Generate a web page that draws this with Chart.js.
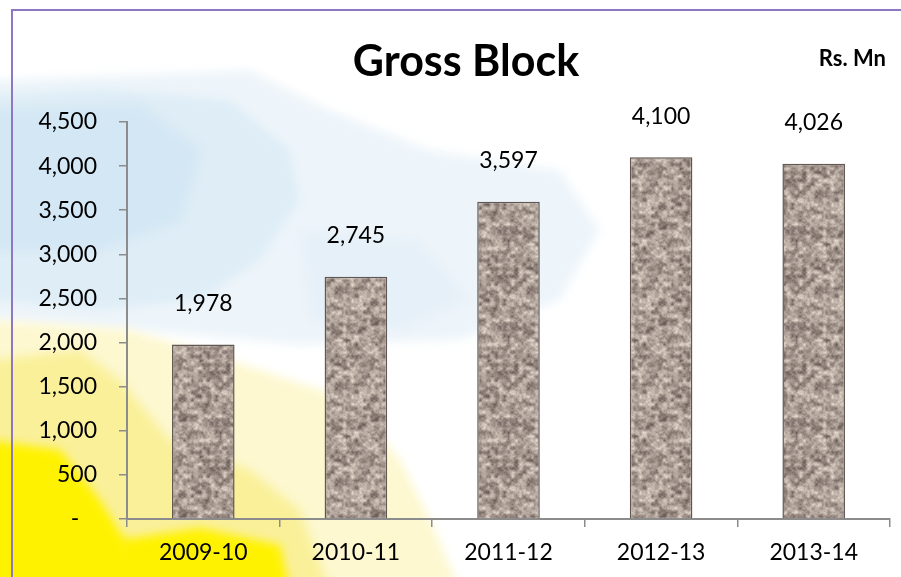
<!DOCTYPE html>
<html>
<head>
<meta charset="utf-8">
<script src="https://cdn.jsdelivr.net/npm/chart.js@4/dist/chart.umd.min.js"></script>
<style>
html,body{margin:0;padding:0;background:#fff;}
#wrap{width:901px;height:577px;position:relative;}
</style>
</head>
<body>
<div id="wrap"><canvas id="c" width="901" height="577"></canvas></div>
<script>
// ---- data ----
const categories = ['2009-10', '2010-11', '2011-12', '2012-13', '2013-14'];
const grossBlock = [1978, 2745, 3597, 4100, 4026];
const yTicks = [0, 500, 1000, 1500, 2000, 2500, 3000, 3500, 4000, 4500];
const chartTitle = 'Gross Block';
const unitLabel = 'Rs. Mn';

const FONT = 'Lato, "Open Sans", "Liberation Sans", sans-serif';

// ---- granite texture (styling only) ----
function hash(i, j) {
  const s = Math.sin(i * 12.9898 + j * 78.233) * 43758.5453;
  return s - Math.floor(s);
}
function makeTexture() {
  const n = 96;
  const cv = document.createElement('canvas');
  cv.width = n; cv.height = n;
  const cx = cv.getContext('2d');
  const img = cx.createImageData(n, n);
  function vnoise(x, y, cell, seed) {
    const m = n / cell;
    const gx = Math.floor(x / cell), gy = Math.floor(y / cell);
    let fx = (x % cell) / cell, fy = (y % cell) / cell;
    fx = fx * fx * (3 - 2 * fx); fy = fy * fy * (3 - 2 * fy);
    const h = (a, b) => hash((a % m) + seed, (b % m) + seed * 3);
    const a = h(gx, gy), b = h(gx + 1, gy), c = h(gx, gy + 1), d = h(gx + 1, gy + 1);
    const top = a + (b - a) * fx, bot = c + (d - c) * fx;
    return top + (bot - top) * fy;
  }
  for (let y = 0; y < n; y++) {
    for (let x = 0; x < n; x++) {
      let v = vnoise(x, y, 4, 1) * 0.6 + vnoise(x, y, 2, 7) * 0.3 + hash(x + 311, y + 97) * 0.1;
      let r, g, b;
      if (v < 0.3) { const t = v / 0.3; r = 88 + t * 52; g = 78 + t * 47; b = 74 + t * 44; }
      else if (v > 0.68) { const t = Math.min(1, (v - 0.68) / 0.2); r = 195 + t * 32; g = 183 + t * 32; b = 173 + t * 30; }
      else { const t = (v - 0.3) / 0.38; r = 140 + t * 55; g = 125 + t * 58; b = 118 + t * 55; }
      const k = (y * n + x) * 4;
      img.data[k] = r; img.data[k + 1] = g; img.data[k + 2] = b; img.data[k + 3] = 255;
    }
  }
  cx.putImageData(img, 0, 0);
  return cx.createPattern(cv, 'repeat');
}
const granite = makeTexture();

// ---- background plugin ----
const bgPlugin = {
  id: 'bg',
  beforeDraw(chart) {
    const ctx = chart.ctx;
    ctx.save();
    ctx.fillStyle = '#ffffff';
    ctx.fillRect(0, 0, chart.width, chart.height);
    ctx.filter = 'blur(5px)';
    function poly(pts, col) {
      ctx.beginPath();
      ctx.moveTo(pts[0][0], pts[0][1]);
      for (let i = 1; i < pts.length; i++) ctx.lineTo(pts[i][0], pts[i][1]);
      ctx.closePath();
      ctx.fillStyle = col;
      ctx.fill();
    }
    // blue shapes
    poly([[-10,80],[250,70],[330,110],[430,150],[560,170],[600,230],[560,300],[460,340],[300,345],[130,330],[-10,320]], '#eef5fa');
    poly([[-10,95],[100,88],[230,100],[290,150],[300,200],[260,260],[200,300],[100,310],[-10,300]], '#deedf6');
    poly([[-10,110],[140,105],[200,150],[180,220],[100,250],[-10,250]], '#d3e7f4');
    poly([[300,230],[420,240],[470,300],[400,330],[310,320]], '#e6f0f8');
    // yellow shapes
    poly([[-10,320],[130,330],[260,370],[350,400],[400,460],[430,520],[460,590],[-10,590]], '#fdf8d0');
    poly([[-10,360],[80,350],[120,380],[170,440],[250,470],[300,510],[330,590],[-10,590]], '#faf09a');
    poly([[-10,440],[60,450],[100,500],[125,540],[140,590],[-10,590]], '#fff200');
    poly([[120,540],[200,528],[280,545],[290,590],[120,590]], '#fff200');
    ctx.filter = 'none';
    // frame
    ctx.strokeStyle = '#8e78c4';
    ctx.lineWidth = 2;
    ctx.beginPath();
    ctx.moveTo(12, 578);
    ctx.lineTo(12, 10);
    ctx.lineTo(902, 10);
    ctx.stroke();
    ctx.restore();
  },
  afterDraw(chart) {
    const ctx = chart.ctx;
    ctx.save();
    ctx.fillStyle = '#000';
    ctx.textBaseline = 'middle';
    ctx.textAlign = 'center';
    ctx.font = 'bold 43px ' + FONT;
    ctx.fillText(chartTitle, 466, 62);
    ctx.font = 'bold 22px ' + FONT;
    ctx.textAlign = 'right';
    ctx.fillText(unitLabel, 886, 59);
    // data labels
    ctx.font = '23px ' + FONT;
    ctx.textAlign = 'center';
    const meta = chart.getDatasetMeta(0);
    meta.data.forEach((bar, i) => {
      ctx.fillText(grossBlock[i].toLocaleString('en-US'), bar.x, bar.y - 41);
    });
    ctx.restore();
  }
};

new Chart(document.getElementById('c'), {
  type: 'bar',
  data: {
    labels: categories,
    datasets: [{
      data: grossBlock,
      backgroundColor: granite,
      borderColor: 'rgba(80,70,65,0.9)',
      borderWidth: 1.5,
      barPercentage: 0.41,
      categoryPercentage: 1.0
    }]
  },
  options: {
    responsive: false,
    animation: false,
    devicePixelRatio: 1,
    layout: { padding: { left: 0, right: 11, top: 122, bottom: 0 } },
    plugins: { legend: { display: false }, tooltip: { enabled: false }, title: { display: false } },
    scales: {
      x: {
        offset: true,
        afterFit(s) { s.height = 58; },
        grid: { offset: true, drawOnChartArea: false, drawTicks: true, tickLength: 8, color: '#8c8c8c', lineWidth: 1.5 },
        border: { display: true, color: '#8c8c8c', width: 2 },
        ticks: { color: '#000', font: { family: FONT, size: 23 }, padding: 12, maxRotation: 0 }
      },
      y: {
        min: 0, max: 4500,
        afterFit(s) { s.width = 127; },
        afterBuildTicks(s) { s.ticks = yTicks.map(v => ({ value: v })); },
        grid: { drawOnChartArea: false, drawTicks: true, tickLength: 8, color: '#8c8c8c', lineWidth: 1.5 },
        border: { display: true, color: '#8c8c8c', width: 2 },
        ticks: {
          color: '#000', font: { family: FONT, size: 23 }, padding: 22,
          callback: v => v === 0 ? '-   ' : Number(v).toLocaleString('en-US')
        }
      }
    }
  },
  plugins: [bgPlugin]
});
</script>
</body>
</html>
